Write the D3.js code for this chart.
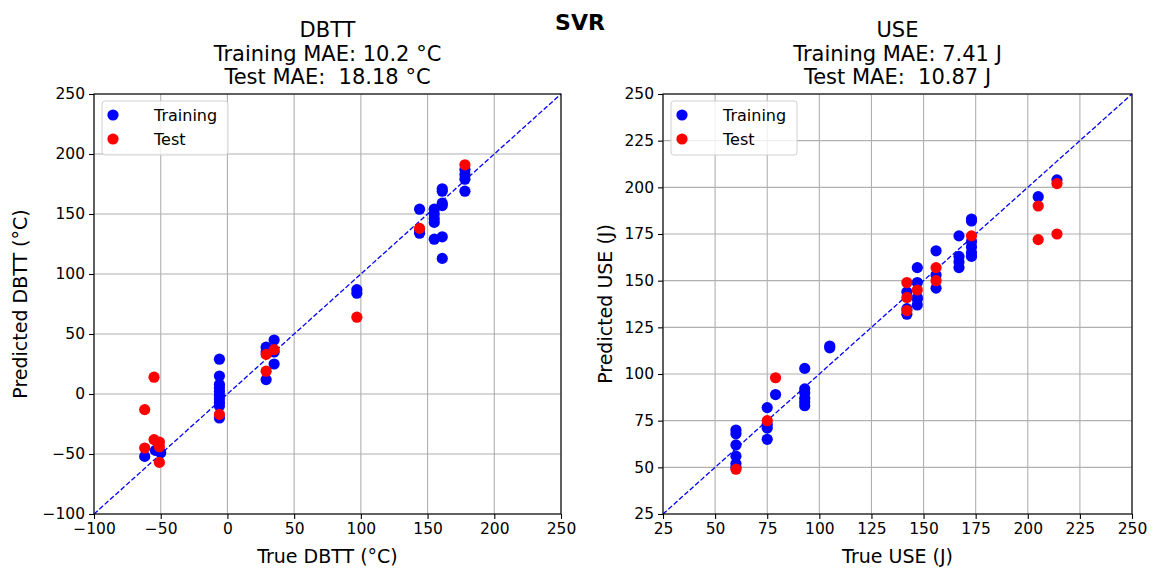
<!DOCTYPE html>
<html><head><meta charset="utf-8">
<script src="https://cdn.jsdelivr.net/npm/d3@7"></script>
<style>body{margin:0;background:#fff}svg{display:block}text{font-family:"DejaVu Sans",sans-serif;white-space:pre}</style>
</head><body>
<svg id="c" width="1153" height="569"></svg>
<script>
// ---- DBTT data ----
const dbttTrainTrue = [-62,-54,-50, -6,-6,-6,-6,-6,-6,-6,-6,-6,-6, 29,29,29,35,35,35, 97,97, 144,144,144, 155,155,155,155,155, 161,161,161,161,161,161, 178,178,178,178];
const dbttTrainPred = [-52,-47,-49, 29,15,8,5,2,-1,-4,-7,-10,-20, 39,35,12,45,35,25, 87,84, 154,136,134, 154,150,146,143,129, 171,169,159,157,131,113, 187,183,179,169];
const dbttTestTrue = [-55,-62,-55,-51,-62,-51,-51,-6,29,35,29,97,144,178];
const dbttTestPred = [14,-13,-38,-40,-45,-44,-57,-17,33,37,19,64,138,191];
// ---- USE data ----
const useTrainTrue = [60,60,60,60,60,60, 75,75,75,75, 79, 93,93,93,93,93,93, 105,105, 142,142,142, 147,147,147,147,147, 156,156,156, 167,167,167,167, 173,173,173,173,173,173, 205,214];
const useTrainPred = [70,68,62,56,52,50, 82,73,71,65, 89, 103,92,90,87,85,83, 115,114, 144,132,135, 157,149,141,137,140, 166,153,146, 174,163,160,157, 183,182,171,168,165,163, 195,204];
const useTestTrue = [60,75,79,142,142,142,147,156,156,173,205,205,214,214];
const useTestPred = [49,75,98,149,141,134,145,157,150,174,190,172,202,175];

const dbttTicks = [-100,-50,0,50,100,150,200,250];
const useTicks = [25,50,75,100,125,150,175,200,225,250];

const panels = [
  {title:["DBTT","Training MAE: 10.2 °C","Test MAE:  18.18 °C"], xl:"True DBTT (°C)", yl:"Predicted DBTT (°C)",
   dom:[-100,250], ticks:dbttTicks, left:94, right:561, ylOff:67,
   tr:[dbttTrainTrue,dbttTrainPred], te:[dbttTestTrue,dbttTestPred]},
  {title:["USE","Training MAE: 7.41 J","Test MAE:  10.87 J"], xl:"True USE (J)", yl:"Predicted USE (J)",
   dom:[25,250], ticks:useTicks, left:663, right:1132, ylOff:51,
   tr:[useTrainTrue,useTrainPred], te:[useTestTrue,useTestPred]}
];
const yTop=94, yBot=514;
const svg = d3.select("#c");
svg.append("text").attr("x",580).attr("y",30).attr("text-anchor","middle")
  .attr("font-size",22).attr("font-weight","bold").text("SVR");

panels.forEach(p=>{
  const x = d3.scaleLinear().domain(p.dom).range([p.left,p.right]);
  const y = d3.scaleLinear().domain(p.dom).range([yBot,yTop]);
  const g = svg.append("g");
  // grid
  g.selectAll(".gx").data(p.ticks).join("line").attr("x1",d=>x(d)).attr("x2",d=>x(d))
    .attr("y1",yTop).attr("y2",yBot).attr("stroke","#b0b0b0").attr("stroke-width",1.1);
  g.selectAll(".gy").data(p.ticks).join("line").attr("y1",d=>y(d)).attr("y2",d=>y(d))
    .attr("x1",p.left).attr("x2",p.right).attr("stroke","#b0b0b0").attr("stroke-width",1.1);
  // diagonal
  g.append("line").attr("x1",x(p.dom[0])).attr("y1",y(p.dom[0])).attr("x2",x(p.dom[1])).attr("y2",y(p.dom[1]))
    .attr("stroke","#0000ff").attr("stroke-width",1.3).attr("stroke-dasharray","5,2.2");
  // points
  g.selectAll(".tr").data(p.tr[0].map((v,i)=>[v,p.tr[1][i]])).join("circle")
    .attr("cx",d=>x(d[0])).attr("cy",d=>y(d[1])).attr("r",5.6).attr("fill","#0000ff");
  g.selectAll(".te").data(p.te[0].map((v,i)=>[v,p.te[1][i]])).join("circle")
    .attr("cx",d=>x(d[0])).attr("cy",d=>y(d[1])).attr("r",5.6).attr("fill","#ff0000");
  // axes
  const ax = d3.axisBottom(x).tickValues(p.ticks).tickSize(5).tickPadding(4).tickFormat(d3.format("d"));
  const ay = d3.axisLeft(y).tickValues(p.ticks).tickSize(5).tickPadding(4).tickFormat(d3.format("d"));
  const gx = g.append("g").attr("transform",`translate(0,${yBot})`).call(ax);
  const gy = g.append("g").attr("transform",`translate(${p.left},0)`).call(ay);
  [gx,gy].forEach(a=>{a.select(".domain").remove();
    a.selectAll("text").attr("font-size",15.5).attr("font-family","DejaVu Sans").attr("fill","#000");
    a.selectAll("line").attr("stroke","#000").attr("stroke-width",1.1);});
  g.append("rect").attr("x",p.left).attr("y",yTop).attr("width",p.right-p.left).attr("height",yBot-yTop)
    .attr("fill","none").attr("stroke","#000").attr("stroke-width",1.1);
  // titles
  const cx=(p.left+p.right)/2;
  p.title.forEach((t,i)=>g.append("text").attr("x",cx).attr("y",37+i*23.5).attr("text-anchor","middle")
    .attr("font-size",21).attr("xml:space","preserve").text(t));
  g.append("text").attr("x",cx).attr("y",563).attr("text-anchor","middle").attr("font-size",19).text(p.xl);
  g.append("text").attr("transform",`translate(${p.left-p.ylOff},${(yTop+yBot)/2}) rotate(-90)`)
    .attr("text-anchor","middle").attr("font-size",19).text(p.yl);
  // legend
  const lg = g.append("g").attr("transform",`translate(${p.left+8},${yTop+7})`);
  lg.append("rect").attr("width",126).attr("height",54).attr("rx",3).attr("fill","#fff").attr("fill-opacity",0.8)
    .attr("stroke","#d0d0d0").attr("stroke-width",1);
  [["Training","#0000ff"],["Test","#ff0000"]].forEach((e,i)=>{
    lg.append("circle").attr("cx",11).attr("cy",14+i*24).attr("r",5.6).attr("fill",e[1]);
    lg.append("text").attr("x",52).attr("y",14+i*24+5.8).attr("font-size",16).text(e[0]);
  });
});
</script>
</body></html>
